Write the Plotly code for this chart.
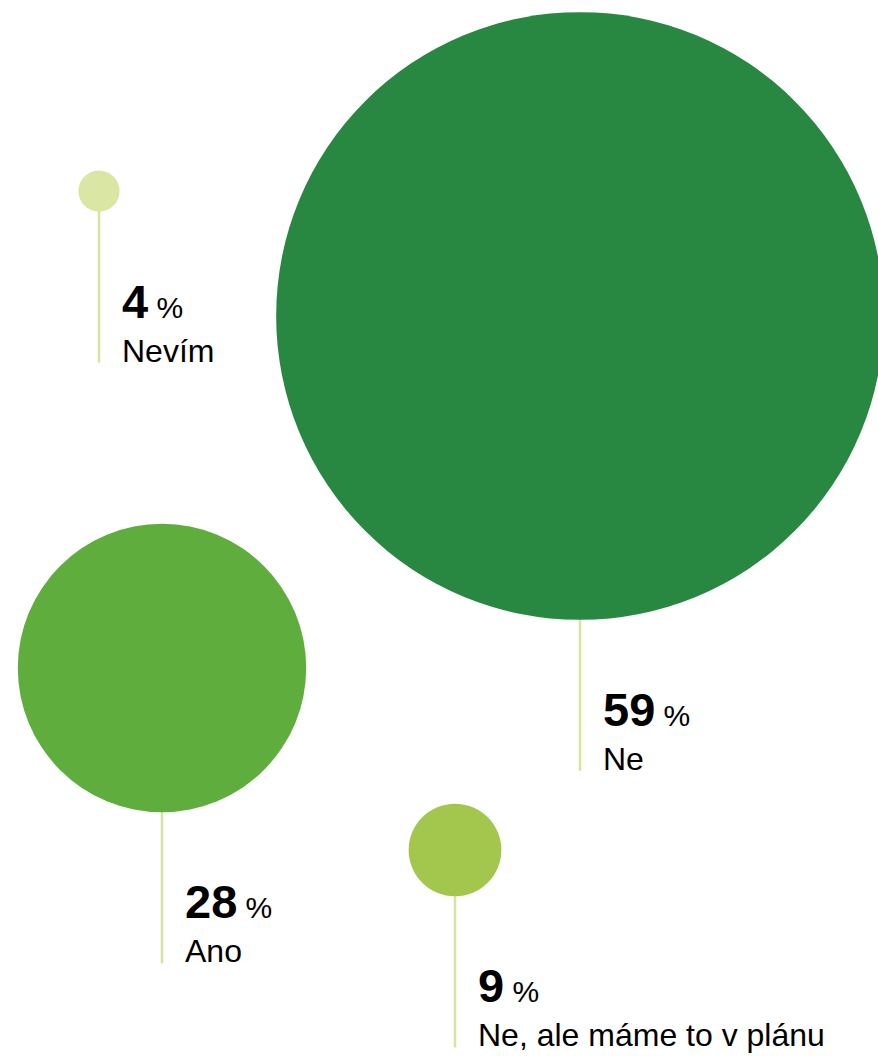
import plotly.graph_objects as go

categories = ["Ne", "Ano", "Ne, ale máme to v plánu", "Nevím"]
values = [59, 28, 9, 4]
center_x = [580, 162, 455, 99]
center_y = [316, 668, 850, 191]
colors = ["#288741", "#5fae3d", "#a3c64c", "#d9e6a4"]

W, H = 878, 1056
px_per_unit = 10.3  # diameter in px per percentage point
stem = 151
line_color = "#d6e3a1"

fig = go.Figure()

# stems
for cx, cy, v in zip(center_x, center_y, values):
    r = v * px_per_unit / 2
    fig.add_trace(go.Scatter(
        x=[cx, cx], y=[cy, cy + r + stem], mode="lines",
        line=dict(color=line_color, width=2.5), hoverinfo="skip", showlegend=False))

# bubbles
fig.add_trace(go.Scatter(
    x=center_x, y=center_y, mode="markers",
    marker=dict(size=values, sizemode="diameter", sizeref=1 / px_per_unit,
                color=colors, opacity=1, line=dict(width=0)),
    text=categories, hoverinfo="text", showlegend=False, cliponaxis=True))

font = "Liberation Sans, Arial, Helvetica, sans-serif"
for cx, cy, v, cat in zip(center_x, center_y, values, categories):
    r = v * px_per_unit / 2
    end = cy + r + stem
    fig.add_annotation(
        x=cx + 22, y=end - 34, xref="x", yref="y", xanchor="left", yanchor="bottom",
        text=f"<b>{v}</b><span style='font-size:30px'> %</span>",
        showarrow=False, font=dict(family=font, size=47, color="#000000"), borderpad=0)
    fig.add_annotation(
        x=cx + 22, y=end + 7, xref="x", yref="y", xanchor="left", yanchor="bottom",
        text=cat, showarrow=False,
        font=dict(family=font, size=32, color="#000000"), borderpad=0)

fig.update_xaxes(range=[0, W], visible=False, fixedrange=True)
fig.update_yaxes(range=[H, 0], visible=False, fixedrange=True)
fig.update_layout(width=W, height=H, margin=dict(l=0, r=0, t=0, b=0),
                  paper_bgcolor="white", plot_bgcolor="white")

fig.write_html("out.html", config={"displayModeBar": False},
               post_script="document.body.style.margin='0px';"
                           "document.body.style.overflow='hidden';")
